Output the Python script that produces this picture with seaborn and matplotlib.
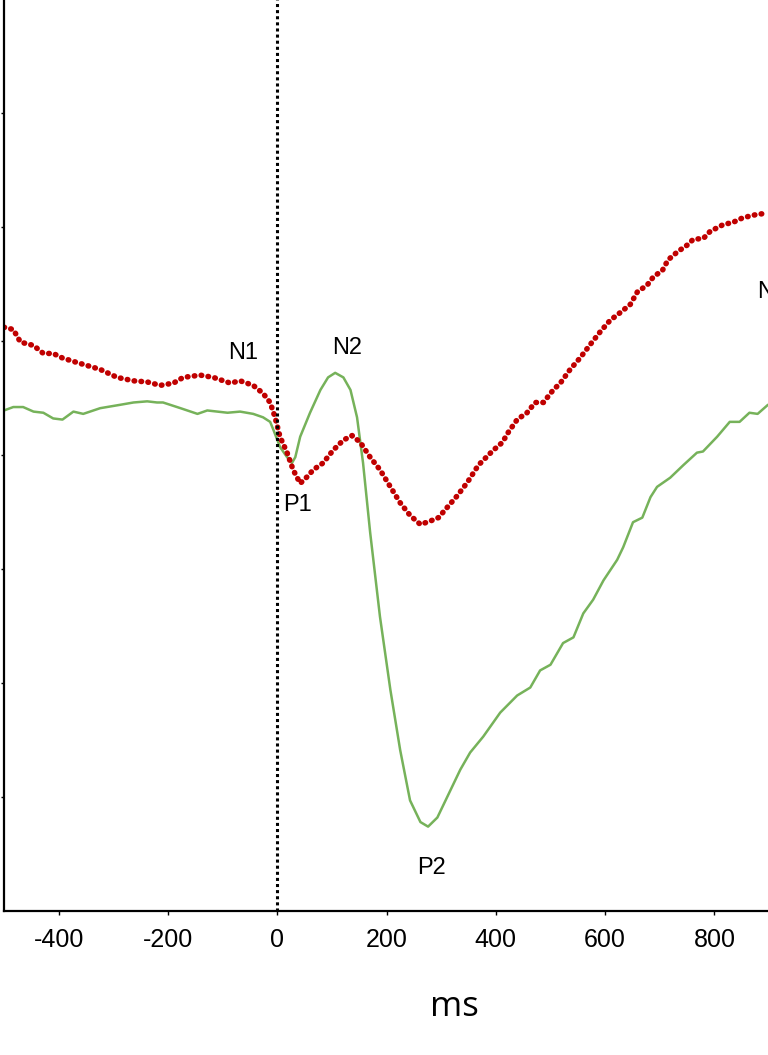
import matplotlib
matplotlib.use("Agg")
import matplotlib.pyplot as plt
import seaborn as sns
import pandas as pd

# red dotted waveform (ms, amplitude in arbitrary units)
red_ms = [-500, -483, -470, -446, -428, -410, -393, -366, -324, -293, -263, -238, -214, -190,
          -172, -141, -117, -86, -68, -44, -26, -13, -4, 5, 18, 29, 42, 55, 66, 84, 102, 121,
          137, 152, 170, 188, 207, 225, 243, 262, 280, 295, 311, 329, 348, 368, 395, 412, 423,
          439, 457, 472, 487, 505, 518, 536, 554, 573, 591, 609, 628, 646, 659, 677, 688, 705,
          715, 732, 750, 761, 780, 792, 816, 834, 852, 878, 897]
red_amp = [5.12, 5.10, 4.99, 4.96, 4.89, 4.89, 4.85, 4.81, 4.75, 4.68, 4.65, 4.64, 4.61, 4.63,
           4.68, 4.70, 4.68, 4.63, 4.65, 4.61, 4.54, 4.46, 4.33, 4.16, 4.02, 3.87, 3.75, 3.81,
           3.87, 3.93, 4.04, 4.13, 4.17, 4.11, 3.98, 3.87, 3.72, 3.58, 3.47, 3.39, 3.42, 3.45,
           3.54, 3.64, 3.76, 3.91, 4.04, 4.11, 4.20, 4.31, 4.37, 4.46, 4.46, 4.57, 4.63, 4.75,
           4.85, 4.97, 5.08, 5.18, 5.25, 5.32, 5.43, 5.49, 5.56, 5.62, 5.71, 5.78, 5.84, 5.89,
           5.90, 5.96, 6.02, 6.04, 6.08, 6.11, 6.12]

# green solid waveform
green_ms = [-500, -483, -465, -446, -428, -410, -393, -373, -355, -324, -287, -263, -238, -220,
            -209, -177, -146, -128, -91, -68, -44, -26, -13, -7, 5, 18, 27, 33, 42, 60, 79, 93,
            106, 121, 134, 146, 157, 170, 188, 207, 225, 243, 262, 276, 293, 311, 335, 353, 377,
            408, 439, 463, 481, 500, 523, 542, 560, 578, 597, 622, 633, 651, 668, 683, 695, 719,
            743, 768, 779, 805, 828, 846, 864, 879, 898]
green_amp = [4.39, 4.42, 4.42, 4.38, 4.37, 4.32, 4.31, 4.38, 4.36, 4.41, 4.44, 4.46, 4.47, 4.46,
             4.46, 4.41, 4.36, 4.39, 4.37, 4.38, 4.36, 4.33, 4.29, 4.22, 4.07, 3.98, 3.93, 3.98,
             4.16, 4.37, 4.57, 4.68, 4.72, 4.68, 4.57, 4.33, 3.93, 3.32, 2.58, 1.94, 1.41, 0.97,
             0.78, 0.74, 0.82, 1.00, 1.24, 1.39, 1.53, 1.74, 1.89, 1.96, 2.11, 2.16, 2.35, 2.40,
             2.61, 2.73, 2.90, 3.08, 3.19, 3.41, 3.45, 3.63, 3.72, 3.80, 3.91, 4.02, 4.03, 4.16,
             4.29, 4.29, 4.37, 4.36, 4.44]

# component labels
peak_names = ["N1", "N2", "P1", "P2", "N3"]
peak_ms = [-62, 128, 37, 282, 878]
peak_amp = [4.89, 4.94, 3.56, 0.38, 5.43]

x_ticks = [-400, -200, 0, 200, 400, 600, 800]
y_ticks = [1, 2, 3, 4, 5, 6, 7]

sns.set_style("ticks")
plt.rcParams["font.family"] = ["Liberation Sans", "DejaVu Sans"]
plt.rcParams["axes.unicode_minus"] = False

fig = plt.figure(figsize=(7.68, 10.55), dpi=100)
ax = fig.add_axes([4 / 768, 144 / 1055, 764 / 768, 911 / 1055])

redDf = pd.DataFrame({"ms": red_ms, "amp": red_amp})
greenDf = pd.DataFrame({"ms": green_ms, "amp": green_amp})

sns.lineplot(data=greenDf, x="ms", y="amp", ax=ax, color="#76B25A", linewidth=1.8)
sns.lineplot(data=redDf, x="ms", y="amp", ax=ax, color="#C00000", linewidth=4.0,
             linestyle=(0, (0.1, 1.15)), dash_capstyle="round")

ax.axvline(0, color="black", linewidth=2.2, linestyle=(0, (1, 1)))

for name, xm, ya in zip(peak_names, peak_ms, peak_amp):
    ha = "left" if name == "N3" else "center"
    ax.text(xm, ya, name, ha=ha, va="center", fontsize=17, color="black")

ax.set_xlim(-500, 898)
ax.set_ylim(0, 7.99)
ax.set_xticks(x_ticks)
ax.set_yticks(y_ticks)
ax.set_yticklabels([])
ax.tick_params(axis="x", labelsize=18, length=3, width=1, pad=9, color="black",
               labelcolor="black")
ax.tick_params(axis="y", length=2, width=1, color="black")
ax.set_xlabel("")
ax.set_ylabel("")

for side in ["top", "right"]:
    ax.spines[side].set_visible(False)
for side in ["left", "bottom"]:
    ax.spines[side].set_linewidth(1.6)
    ax.spines[side].set_color("black")

fig.text(454 / 768, 1 - 1007 / 1055, "ms", ha="center", va="center", color="black",
         fontsize=25, family=["Open Sans", "DejaVu Sans"])

fig.savefig("out.png", dpi=100)
plt.close(fig)
